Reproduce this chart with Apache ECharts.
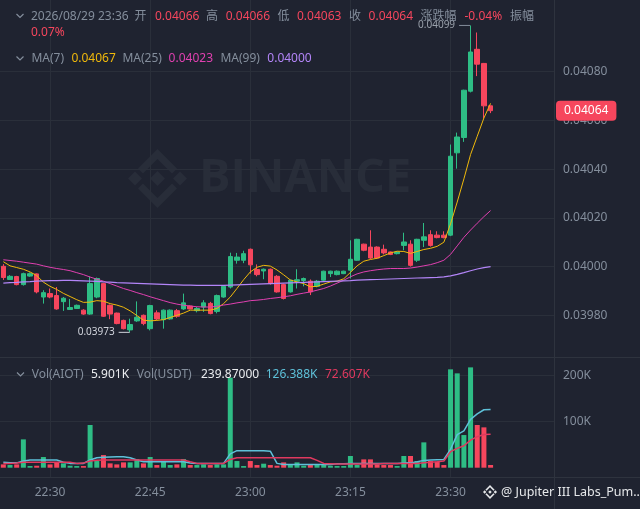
<!DOCTYPE html>
<html><head><meta charset="utf-8">
<script src="https://cdn.jsdelivr.net/npm/echarts@6/dist/echarts.min.js"></script>
<style>html,body{margin:0;padding:0;background:#1f2330;}#c{width:640px;height:509px;}</style>
</head><body><div id="c"></div>
<script>
const categories = ["22:23","22:24","22:25","22:26","22:27","22:28","22:29","22:30","22:31","22:32","22:33","22:34","22:35","22:36","22:37","22:38","22:39","22:40","22:41","22:42","22:43","22:44","22:45","22:46","22:47","22:48","22:49","22:50","22:51","22:52","22:53","22:54","22:55","22:56","22:57","22:58","22:59","23:00","23:01","23:02","23:03","23:04","23:05","23:06","23:07","23:08","23:09","23:10","23:11","23:12","23:13","23:14","23:15","23:16","23:17","23:18","23:19","23:20","23:21","23:22","23:23","23:24","23:25","23:26","23:27","23:28","23:29","23:30","23:31","23:32","23:33","23:34","23:35","23:36","23:37","23:38","23:39","23:40","23:41","23:42","23:43","23:44","23:45"];
const opens = [0.040001,0.039947,0.039959,0.039926,0.039961,0.039970,0.039875,0.039889,0.039881,0.039856,0.039824,0.039828,0.039821,0.039805,0.039875,0.039930,0.039841,0.039809,0.039779,0.039740,0.039777,0.039800,0.039745,0.039810,0.039782,0.039785,0.039819,0.039826,0.039838,0.039819,0.039834,0.039849,0.039816,0.039875,0.039916,0.040026,0.040026,0.040071,0.039988,0.039982,0.039989,0.039960,0.039926,0.039896,0.039940,0.039943,0.039940,0.039919,0.039944,0.039971,0.039967,0.039971,0.039985,0.040026,0.040092,0.040080,0.040080,0.040071,0.040060,0.040053,0.040087,0.040092,0.040026,0.040108,0.040131,0.040129,0.040129,0.040129,0.040467,0.040530,0.040720,0.040892,0.040834,0.040660];
const closes = [0.039955,0.039960,0.039926,0.039971,0.039971,0.039896,0.039893,0.039875,0.039826,0.039870,0.039832,0.039841,0.039805,0.039930,0.039951,0.039796,0.039805,0.039766,0.039745,0.039762,0.039792,0.039766,0.039840,0.039785,0.039821,0.039821,0.039796,0.039851,0.039826,0.039828,0.039851,0.039807,0.039881,0.039919,0.040041,0.040039,0.040053,0.040007,0.039967,0.039989,0.039930,0.039896,0.039869,0.039944,0.039946,0.039951,0.039896,0.039940,0.039981,0.039981,0.039981,0.039981,0.040030,0.040112,0.040067,0.040035,0.040035,0.040056,0.040050,0.040060,0.040101,0.040005,0.040112,0.040122,0.040087,0.040119,0.040119,0.040453,0.040532,0.040724,0.040881,0.040831,0.040660,0.040640];
const lows = [0.039945,0.039945,0.039923,0.039922,0.039958,0.039890,0.039848,0.039870,0.039823,0.039818,0.039822,0.039826,0.039802,0.039802,0.039870,0.039793,0.039784,0.039763,0.039742,0.039730,0.039773,0.039759,0.039738,0.039780,0.039745,0.039782,0.039790,0.039822,0.039824,0.039812,0.039814,0.039804,0.039808,0.039872,0.039910,0.040012,0.040014,0.039971,0.039960,0.039948,0.039926,0.039893,0.039865,0.039893,0.039910,0.039919,0.039883,0.039915,0.039940,0.039957,0.039964,0.039969,0.039951,0.040024,0.040063,0.040030,0.040032,0.040050,0.040047,0.040050,0.040067,0.040000,0.040019,0.040080,0.040082,0.040116,0.040116,0.040125,0.040402,0.040512,0.040715,0.040782,0.040608,0.040630];
const highs = [0.040010,0.039965,0.039962,0.039975,0.039976,0.039972,0.039903,0.039910,0.039916,0.039875,0.039867,0.039844,0.039825,0.039959,0.039955,0.039933,0.039844,0.039811,0.039782,0.039786,0.039857,0.039803,0.039843,0.039820,0.039824,0.039824,0.039826,0.039889,0.039840,0.039834,0.039862,0.039855,0.039885,0.039922,0.040057,0.040056,0.040065,0.040074,0.040009,0.039992,0.039992,0.039965,0.039930,0.039946,0.039989,0.039955,0.039947,0.039945,0.039983,0.039983,0.039984,0.039983,0.040108,0.040114,0.040094,0.040149,0.040083,0.040090,0.040062,0.040062,0.040139,0.040108,0.040114,0.040179,0.040149,0.040145,0.040145,0.040501,0.040550,0.040726,0.040990,0.040961,0.040836,0.040660];
const ma7 = [0.040020,0.040003,0.039996,0.039989,0.039978,0.039963,0.039936,0.039919,0.039906,0.039890,0.039877,0.039864,0.039853,0.039854,0.039860,0.039858,0.039848,0.039842,0.039833,0.039818,0.039799,0.039780,0.039777,0.039779,0.039782,0.039791,0.039800,0.039809,0.039821,0.039821,0.039821,0.039821,0.039828,0.039848,0.039875,0.039910,0.039946,0.039978,0.039997,0.040005,0.040002,0.039986,0.039966,0.039945,0.039937,0.039930,0.039917,0.039919,0.039928,0.039937,0.039940,0.039950,0.039976,0.040003,0.040022,0.040029,0.040034,0.040045,0.040056,0.040063,0.040062,0.040054,0.040062,0.040070,0.040075,0.040083,0.040100,0.040175,0.040265,0.040360,0.040460,0.040535,0.040610,0.040670];
const ma25 = [0.040028,0.040025,0.040022,0.040018,0.040014,0.040010,0.040003,0.039997,0.039992,0.039988,0.039983,0.039975,0.039967,0.039957,0.039948,0.039940,0.039930,0.039920,0.039910,0.039902,0.039893,0.039885,0.039876,0.039868,0.039860,0.039852,0.039846,0.039841,0.039838,0.039835,0.039834,0.039834,0.039837,0.039842,0.039846,0.039851,0.039855,0.039860,0.039862,0.039865,0.039869,0.039872,0.039876,0.039880,0.039886,0.039891,0.039896,0.039903,0.039910,0.039920,0.039932,0.039944,0.039958,0.039970,0.039978,0.039983,0.039987,0.039990,0.039992,0.039992,0.039992,0.039994,0.039998,0.040003,0.040008,0.040016,0.040026,0.040050,0.040085,0.040120,0.040150,0.040178,0.040205,0.040230];
const ma99 = [0.039932,0.039934,0.039935,0.039937,0.039938,0.039940,0.039941,0.039942,0.039942,0.039943,0.039943,0.039942,0.039941,0.039940,0.039939,0.039937,0.039936,0.039934,0.039933,0.039932,0.039931,0.039930,0.039929,0.039928,0.039927,0.039926,0.039925,0.039924,0.039924,0.039923,0.039923,0.039923,0.039923,0.039923,0.039924,0.039925,0.039926,0.039927,0.039928,0.039929,0.039930,0.039931,0.039932,0.039933,0.039934,0.039935,0.039936,0.039937,0.039938,0.039939,0.039940,0.039941,0.039942,0.039944,0.039945,0.039946,0.039947,0.039948,0.039949,0.039950,0.039951,0.039952,0.039953,0.039954,0.039955,0.039956,0.039958,0.039962,0.039968,0.039975,0.039983,0.039990,0.039996,0.040000];
const volumes = [7200,5800,7200,61600,3600,4300,23200,7200,11600,9400,4300,3600,3600,92800,14500,27500,9400,7200,11600,11600,18800,9400,23200,5800,13000,5800,7200,18800,5800,5800,7200,5800,7200,7200,195700,14500,3600,14500,5800,8700,5800,4300,11600,5800,11600,4300,5800,5800,5800,4300,3600,3600,25400,5800,18100,18100,7200,5800,5800,3600,25400,25400,14500,55100,14500,13000,5800,213800,205100,71000,218100,92800,87700,5901];
const volMaCyan = [11600,11000,10500,14500,16700,16700,16700,16700,16700,12000,9400,9400,9400,16700,21700,22500,23200,23900,23900,21700,16700,13000,13000,13000,13000,13000,13000,13000,10000,9400,9400,9400,9400,9400,30000,37000,37000,37000,37000,37000,36000,9400,7200,7200,7200,7200,7200,7200,7200,7200,8700,8700,9000,9000,9400,9400,9400,9400,9400,9400,10000,10500,13000,15900,16700,17400,18000,40000,72000,80000,105000,117000,126000,126388];
const volMaRed = [9400,9400,10000,11600,11600,11600,11600,11600,11600,11600,11600,9400,10000,14500,16000,16700,16700,16700,16700,16700,16700,16700,16700,16700,16700,16700,16700,16700,13000,9400,9400,9400,9400,9400,18000,21700,21700,21700,21700,21700,21700,21700,21700,21700,21700,21700,21700,16000,9400,8700,8000,8000,8000,8000,8000,8000,8000,9000,9000,9000,9000,9000,9000,10500,11600,13000,14500,34800,42000,47800,60000,67400,72000,72607];
const headerDate = "2026/08/29 23:36";
const headerChange = "-0.04%";
const headerAmplitude = "0.07%";
const volUsdtText = "239.87000";

const UP = '#2ebd85', DOWN = '#f6465d', GRID = '#2a2f3a', SEP = '#2e333e', GRAY = '#848e9c';
const FONT = '"Noto Sans", "Noto Sans CJK SC", sans-serif';
const last = closes.length - 1;
const isMajor = v => { const m = +v.slice(3); return m % 15 === 0 && v !== '23:45'; };
let maxI = 0, minI = 0;
highs.forEach((h, i) => { if (h > highs[maxI]) maxI = i; });
lows.forEach((l, i) => { if (l < lows[minI]) minI = i; });

function txt(x, y, text, fill, size) {
  return { type: 'text', x: x, y: y, z: 100, style: { text: text, fill: fill, font: (size || 12) + 'px ' + FONT, align: 'left', verticalAlign: 'middle' } };
}
function chevron(x, y) {
  return { type: 'polyline', z: 100, shape: { points: [[x, y - 2], [x + 3.5, y + 1.5], [x + 7, y - 2]] }, style: { stroke: GRAY, lineWidth: 1.2, fill: null } };
}
function logo(cx, cy, s, color, z) {
  const P = pts => ({ type: 'polygon', z: z, shape: { points: pts.map(p => [cx + p[0] * s, cy + p[1] * s]) }, style: { fill: color } });
  const dia = (dx, h) => P([[dx, -h], [dx + h, 0], [dx, h], [dx - h, 0]]);
  return [
    dia(0, 0.254), dia(-0.763, 0.237), dia(0.763, 0.237),
    P([[0, -1], [0.661, -0.339], [0.492, -0.170], [0, -0.661], [-0.492, -0.170], [-0.661, -0.339]]),
    P([[0, 1], [0.661, 0.339], [0.492, 0.170], [0, 0.661], [-0.492, 0.170], [-0.661, 0.339]])
  ];
}
const f5 = v => v.toFixed(5);
const kFmt = v => (v / 1000).toFixed(3) + 'K';

const graphics = [].concat(
  logo(157.5, 178.5, 29.5, '#282d39', -1),
  [{ type: 'text', x: 199, y: 178.5, z: -1, style: { text: 'BINANCE', fill: '#282d39', font: 'bold 47px "Open Sans", sans-serif', verticalAlign: 'middle' } }],
  [
    { type: 'line', z: 50, shape: { x1: 0, y1: 357.5, x2: 640, y2: 357.5 }, style: { stroke: SEP, lineWidth: 1 } },
    { type: 'line', z: 50, shape: { x1: 0, y1: 477.5, x2: 640, y2: 477.5 }, style: { stroke: SEP, lineWidth: 1 } },
    { type: 'line', z: 50, shape: { x1: 554.5, y1: 0, x2: 554.5, y2: 509 }, style: { stroke: SEP, lineWidth: 1 } },
    chevron(16.5, 16), txt(31, 16.5, headerDate, GRAY),
    txt(134.5, 16.5, '开', GRAY), txt(155, 16.5, f5(opens[last]), DOWN),
    txt(206, 16.5, '高', GRAY), txt(225.7, 16.5, f5(highs[last]), DOWN),
    txt(277.5, 16.5, '低', GRAY), txt(297, 16.5, f5(lows[last]), DOWN),
    txt(349, 16.5, '收', GRAY), txt(368.6, 16.5, f5(closes[last]), DOWN),
    txt(420.4, 16.5, '涨跌幅', GRAY), txt(464.5, 16.5, headerChange, DOWN),
    txt(510, 16.5, '振幅', GRAY), txt(31, 33, headerAmplitude, DOWN),
    chevron(16.5, 58.5), txt(31.4, 59, 'MA(7)', GRAY), txt(71.4, 59, f5(ma7[last]), '#f0b90b'),
    txt(122.4, 59, 'MA(25)', GRAY), txt(168.6, 59, f5(ma25[last]), '#e040b0'),
    txt(220.4, 59, 'MA(99)', GRAY), txt(267.3, 59, f5(ma99[last]), '#b385f8'),
    chevron(17, 374.5), txt(31.7, 375, 'Vol(AIOT)', GRAY), txt(91, 375, kFmt(volumes[last]), '#eaecef'),
    txt(136.7, 375, 'Vol(USDT)', GRAY), txt(201, 375, volUsdtText, '#eaecef'),
    txt(265.7, 375, kFmt(volMaCyan[last]), '#5ec1d9'), txt(325, 375, kFmt(volMaRed[last]), '#e0395f'),
    txt(501, 492.5, '@ Jupiter III Labs_Pum...', '#e6e8ea', 12.5)
  ],
  logo(490, 492, 7, '#e6e8ea', 100)
);

const chart = echarts.init(document.getElementById('c'), null, { renderer: 'canvas' });
chart.setOption({
  animation: false,
  backgroundColor: '#1f2330',
  textStyle: { fontFamily: FONT },
  grid: [
    { left: 0, right: 86, top: 23.0, height: 341.0 },
    { left: 0, right: 86, top: 357.3, height: 110.4 },
    { left: 3.337, right: 89.34, top: 0, height: 477 }
  ],
  xAxis: [
    { type: 'category', gridIndex: 0, data: categories, show: false },
    { type: 'category', gridIndex: 1, data: categories, axisLine: { show: false }, axisTick: { show: false }, splitLine: { show: false },
      axisLabel: { interval: (i, v) => isMajor(v), color: GRAY, fontSize: 12, margin: 19 } },
    { type: 'category', gridIndex: 2, data: categories, boundaryGap: false, axisLine: { show: false }, axisTick: { show: false }, axisLabel: { show: false },
      splitLine: { show: true, interval: (i, v) => isMajor(v), lineStyle: { color: GRID, width: 1 } } }
  ],
  yAxis: [
    { type: 'value', gridIndex: 0, position: 'right', min: 0.0396, max: 0.0410, interval: 0.0002, scale: true,
      axisLine: { show: false }, axisTick: { show: false },
      axisLabel: { color: GRAY, fontSize: 12, margin: 9, formatter: v => (v < 0.03970 || v > 0.04095) ? '' : v.toFixed(5) },
      splitLine: { show: true, showMinLine: false, showMaxLine: false, lineStyle: { color: GRID } } },
    { type: 'value', gridIndex: 1, position: 'right', min: 0, max: 240000, interval: 100000,
      axisLine: { show: false }, axisTick: { show: false },
      axisLabel: { color: GRAY, fontSize: 12, margin: 9, formatter: v => (v === 100000 || v === 200000) ? (v / 1000) + 'K' : '' },
      splitLine: { show: true, showMinLine: false, showMaxLine: false, lineStyle: { color: GRID } } },
    { type: 'value', gridIndex: 2, min: 0, max: 1, show: false }
  ],
  graphic: { elements: graphics },
  series: [
    { type: 'candlestick', xAxisIndex: 0, yAxisIndex: 0, barWidth: 5,
      data: opens.map((o, i) => [o, closes[i], lows[i], highs[i]]),
      itemStyle: { color: UP, color0: DOWN, borderColor: UP, borderColor0: DOWN, borderWidth: 1 },
      markPoint: { silent: true, animation: false,
        data: [
          { coord: [maxI, highs[maxI]], symbol: 'rect', symbolSize: [11, 1], symbolOffset: [-6, 0], itemStyle: { color: '#848e9c' },
            label: { show: true, position: 'left', distance: 4, formatter: f5(highs[maxI]), color: '#9aa1ab', fontSize: 10 } },
          { coord: [minI, lows[minI]], symbol: 'rect', symbolSize: [11, 1], symbolOffset: [-6, 0], itemStyle: { color: '#d1d4dc' },
            label: { show: true, position: 'left', distance: 4, formatter: f5(lows[minI]), color: '#d1d4dc', fontSize: 10 } }
        ] } },
    { type: 'line', xAxisIndex: 0, yAxisIndex: 0, data: ma7, showSymbol: false, lineStyle: { color: '#f0b90b', width: 1 }, z: 3,
      markLine: { silent: true, symbol: ['none', 'none'], animation: false, precision: 6,
        lineStyle: { color: 'rgba(0,0,0,0)', width: 0 },
        data: [{ yAxis: closes[last] }],
        label: { show: true, position: 'end', distance: 2, formatter: f5(closes[last]), color: '#ffffff', fontSize: 12,
          backgroundColor: DOWN, padding: [4, 8, 4, 8], borderRadius: 4 } } },
    { type: 'line', xAxisIndex: 0, yAxisIndex: 0, data: ma25, showSymbol: false, lineStyle: { color: '#e040b0', width: 1 }, z: 3 },
    { type: 'line', xAxisIndex: 0, yAxisIndex: 0, data: ma99, showSymbol: false, lineStyle: { color: '#b385f8', width: 1.2 }, z: 3 },
    { type: 'bar', xAxisIndex: 1, yAxisIndex: 1, barWidth: 5, data: volumes,
      itemStyle: { color: p => closes[p.dataIndex] >= opens[p.dataIndex] ? UP : DOWN } },
    { type: 'line', xAxisIndex: 1, yAxisIndex: 1, data: volMaCyan, showSymbol: false, lineStyle: { color: '#5ec1d9', width: 1.5 }, z: 3 },
    { type: 'line', xAxisIndex: 1, yAxisIndex: 1, data: volMaRed, showSymbol: false, lineStyle: { color: '#e0395f', width: 1.5 }, z: 3 }
  ]
});
</script>
</body></html>
